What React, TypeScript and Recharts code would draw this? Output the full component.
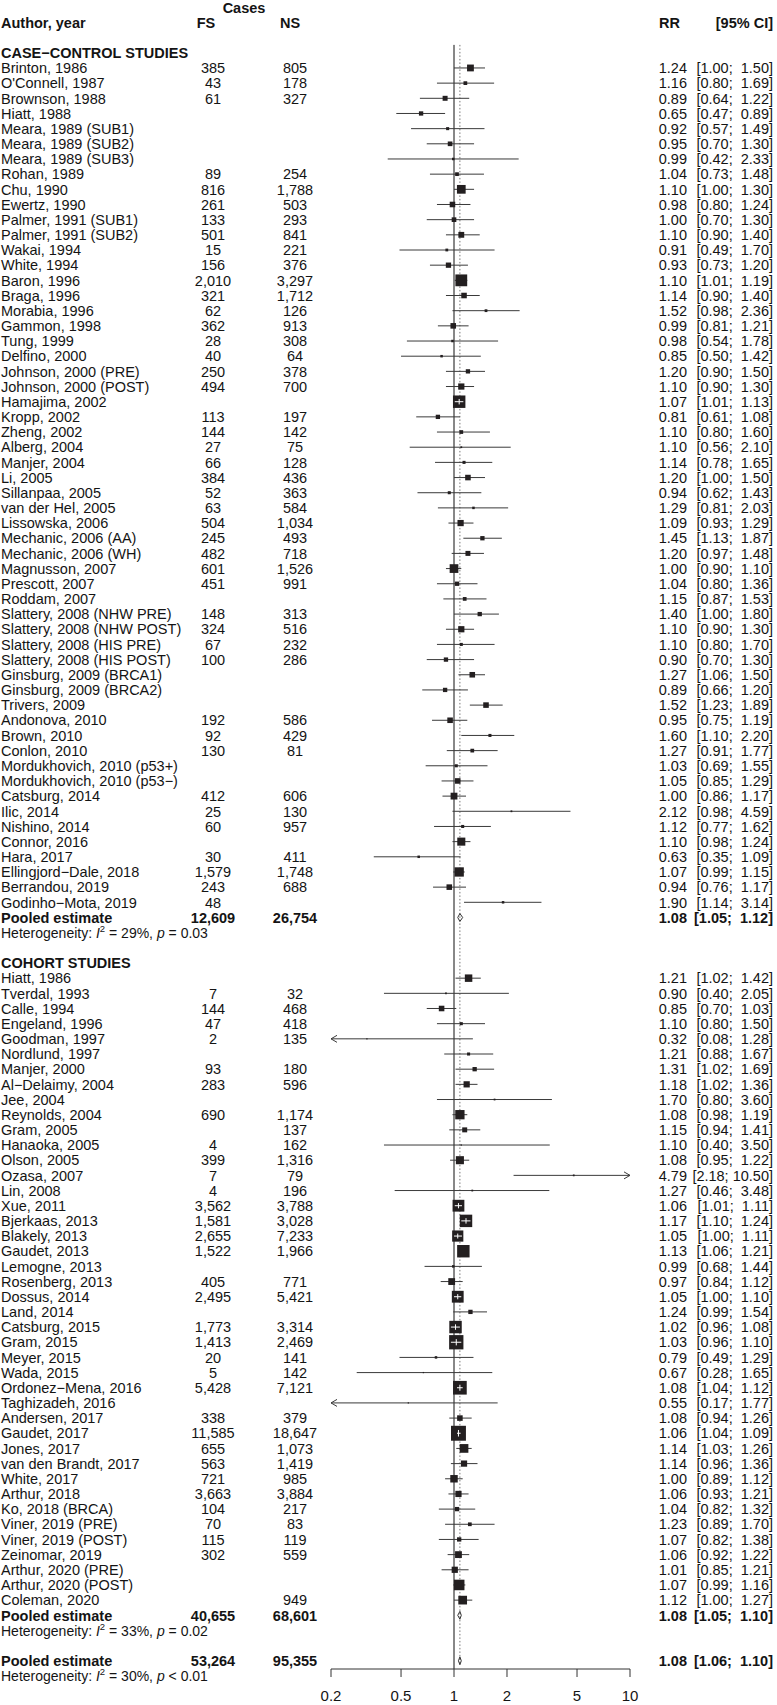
import React from "react";
import {
  ScatterChart,
  Scatter,
  XAxis,
  YAxis,
  ZAxis,
  ErrorBar,
  ReferenceLine,
} from "recharts";

const FONT = '"Liberation Sans", Arial, Helvetica, sans-serif';
const INK = "#141414";
const SQUARE = "#231f20";
const CI_LINE = "#3a3a3a";

const XMIN = 0.2;
const XMAX = 10;
const TICKS = [0.2, 0.5, 1, 2, 5, 10];

// ---- case-control studies ----
const ccAuthors = [
  "Brinton, 1986", "O'Connell, 1987", "Brownson, 1988", "Hiatt, 1988",
  "Meara, 1989 (SUB1)", "Meara, 1989 (SUB2)", "Meara, 1989 (SUB3)", "Rohan, 1989",
  "Chu, 1990", "Ewertz, 1990", "Palmer, 1991 (SUB1)", "Palmer, 1991 (SUB2)",
  "Wakai, 1994", "White, 1994", "Baron, 1996", "Braga, 1996", "Morabia, 1996",
  "Gammon, 1998", "Tung, 1999", "Delfino, 2000", "Johnson, 2000 (PRE)",
  "Johnson, 2000 (POST)", "Hamajima, 2002", "Kropp, 2002", "Zheng, 2002",
  "Alberg, 2004", "Manjer, 2004", "Li, 2005", "Sillanpaa, 2005", "van der Hel, 2005",
  "Lissowska, 2006", "Mechanic, 2006 (AA)", "Mechanic, 2006 (WH)", "Magnusson, 2007",
  "Prescott, 2007", "Roddam, 2007", "Slattery, 2008 (NHW PRE)", "Slattery, 2008 (NHW POST)",
  "Slattery, 2008 (HIS PRE)", "Slattery, 2008 (HIS POST)", "Ginsburg, 2009 (BRCA1)",
  "Ginsburg, 2009 (BRCA2)", "Trivers, 2009", "Andonova, 2010", "Brown, 2010",
  "Conlon, 2010", "Mordukhovich, 2010 (p53+)", "Mordukhovich, 2010 (p53\u2212)",
  "Catsburg, 2014", "Ilic, 2014", "Nishino, 2014", "Connor, 2016", "Hara, 2017",
  "Ellingjord\u2212Dale, 2018", "Berrandou, 2019", "Godinho\u2212Mota, 2019",
];
const ccFS = [
  385, 43, 61, null, null, null, null, 89, 816, 261, 133, 501, 15, 156, 2010, 321, 62,
  362, 28, 40, 250, 494, null, 113, 144, 27, 66, 384, 52, 63, 504, 245, 482, 601, 451,
  null, 148, 324, 67, 100, null, null, null, 192, 92, 130, null, null, 412, 25, 60, null,
  30, 1579, 243, 48,
];
const ccNS = [
  805, 178, 327, null, null, null, null, 254, 1788, 503, 293, 841, 221, 376, 3297, 1712,
  126, 913, 308, 64, 378, 700, null, 197, 142, 75, 128, 436, 363, 584, 1034, 493, 718,
  1526, 991, null, 313, 516, 232, 286, null, null, null, 586, 429, 81, null, null, 606,
  130, 957, null, 411, 1748, 688, null,
];
const ccRR = [
  1.24, 1.16, 0.89, 0.65, 0.92, 0.95, 0.99, 1.04, 1.1, 0.98, 1.0, 1.1, 0.91, 0.93, 1.1,
  1.14, 1.52, 0.99, 0.98, 0.85, 1.2, 1.1, 1.07, 0.81, 1.1, 1.1, 1.14, 1.2, 0.94, 1.29,
  1.09, 1.45, 1.2, 1.0, 1.04, 1.15, 1.4, 1.1, 1.1, 0.9, 1.27, 0.89, 1.52, 0.95, 1.6, 1.27,
  1.03, 1.05, 1.0, 2.12, 1.12, 1.1, 0.63, 1.07, 0.94, 1.9,
];
const ccLo = [
  1.0, 0.8, 0.64, 0.47, 0.57, 0.7, 0.42, 0.73, 1.0, 0.8, 0.7, 0.9, 0.49, 0.73, 1.01, 0.9,
  0.98, 0.81, 0.54, 0.5, 0.9, 0.9, 1.01, 0.61, 0.8, 0.56, 0.78, 1.0, 0.62, 0.81, 0.93,
  1.13, 0.97, 0.9, 0.8, 0.87, 1.0, 0.9, 0.8, 0.7, 1.06, 0.66, 1.23, 0.75, 1.1, 0.91, 0.69,
  0.85, 0.86, 0.98, 0.77, 0.98, 0.35, 0.99, 0.76, 1.14,
];
const ccHi = [
  1.5, 1.69, 1.22, 0.89, 1.49, 1.3, 2.33, 1.48, 1.3, 1.24, 1.3, 1.4, 1.7, 1.2, 1.19, 1.4,
  2.36, 1.21, 1.78, 1.42, 1.5, 1.3, 1.13, 1.08, 1.6, 2.1, 1.65, 1.5, 1.43, 2.03, 1.29,
  1.87, 1.48, 1.1, 1.36, 1.53, 1.8, 1.3, 1.7, 1.3, 1.5, 1.2, 1.89, 1.19, 2.2, 1.77, 1.55,
  1.29, 1.17, 4.59, 1.62, 1.24, 1.09, 1.15, 1.17, 3.14,
];
// relative study weights
const ccWt = [
  30, 9, 16, 12, 6, 14, 4, 9, 49, 20, 14, 22, 5, 18, 90, 20, 5, 20, 4, 4, 12, 25, 100, 12,
  9, 2, 6, 20, 6, 4, 25, 12, 16, 49, 12, 9, 12, 25, 6, 12, 20, 12, 20, 20, 6, 9, 6, 20,
  30, 2, 6, 42, 4, 56, 20, 4,
];

// ---- cohort studies ----
const coAuthors = [
  "Hiatt, 1986", "Tverdal, 1993", "Calle, 1994", "Engeland, 1996", "Goodman, 1997",
  "Nordlund, 1997", "Manjer, 2000", "Al\u2212Delaimy, 2004", "Jee, 2004", "Reynolds, 2004",
  "Gram, 2005", "Hanaoka, 2005", "Olson, 2005", "Ozasa, 2007", "Lin, 2008", "Xue, 2011",
  "Bjerkaas, 2013", "Blakely, 2013", "Gaudet, 2013", "Lemogne, 2013", "Rosenberg, 2013",
  "Dossus, 2014", "Land, 2014", "Catsburg, 2015", "Gram, 2015", "Meyer, 2015",
  "Wada, 2015", "Ordonez\u2212Mena, 2016", "Taghizadeh, 2016", "Andersen, 2017",
  "Gaudet, 2017", "Jones, 2017", "van den Brandt, 2017", "White, 2017", "Arthur, 2018",
  "Ko, 2018 (BRCA)", "Viner, 2019 (PRE)", "Viner, 2019 (POST)", "Zeinomar, 2019",
  "Arthur, 2020 (PRE)", "Arthur, 2020 (POST)", "Coleman, 2020",
];
const coFS = [
  null, 7, 144, 47, 2, null, 93, 283, null, 690, null, 4, 399, 7, 4, 3562, 1581, 2655,
  1522, null, 405, 2495, null, 1773, 1413, 20, 5, 5428, null, 338, 11585, 655, 563, 721,
  3663, 104, 70, 115, 302, null, null, null,
];
const coNS = [
  null, 32, 468, 418, 135, null, 180, 596, null, 1174, 137, 162, 1316, 79, 196, 3788,
  3028, 7233, 1966, null, 771, 5421, null, 3314, 2469, 141, 142, 7121, null, 379, 18647,
  1073, 1419, 985, 3884, 217, 83, 119, 559, null, null, 949,
];
const coRR = [
  1.21, 0.9, 0.85, 1.1, 0.32, 1.21, 1.31, 1.18, 1.7, 1.08, 1.15, 1.1, 1.08, 4.79, 1.27,
  1.06, 1.17, 1.05, 1.13, 0.99, 0.97, 1.05, 1.24, 1.02, 1.03, 0.79, 0.67, 1.08, 0.55,
  1.08, 1.06, 1.14, 1.14, 1.0, 1.06, 1.04, 1.23, 1.07, 1.06, 1.01, 1.07, 1.12,
];
const coLo = [
  1.02, 0.4, 0.7, 0.8, 0.08, 0.88, 1.02, 1.02, 0.8, 0.98, 0.94, 0.4, 0.95, 2.18, 0.46,
  1.01, 1.1, 1.0, 1.06, 0.68, 0.84, 1.0, 0.99, 0.96, 0.96, 0.49, 0.28, 1.04, 0.17, 0.94,
  1.04, 1.03, 0.96, 0.89, 0.93, 0.82, 0.89, 0.82, 0.92, 0.85, 0.99, 1.0,
];
const coHi = [
  1.42, 2.05, 1.03, 1.5, 1.28, 1.67, 1.69, 1.36, 3.6, 1.19, 1.41, 3.5, 1.22, 10.5, 3.48,
  1.11, 1.24, 1.11, 1.21, 1.44, 1.12, 1.1, 1.54, 1.08, 1.1, 1.29, 1.65, 1.12, 1.77, 1.26,
  1.09, 1.26, 1.36, 1.12, 1.21, 1.32, 1.7, 1.38, 1.22, 1.21, 1.16, 1.27,
];
const coWt = [
  36, 2, 20, 6, 1, 6, 12, 25, 2, 56, 16, 1, 42, 2, 2, 90, 100, 81, 100, 4, 30, 90, 12,
  100, 132, 4, 1, 121, 1, 20, 144, 49, 25, 36, 25, 12, 9, 12, 30, 25, 72, 49,
];

// studies whose CI lies inside the square (drawn in white)
const whiteCI = [
  "Hamajima, 2002", "Xue, 2011", "Bjerkaas, 2013", "Blakely, 2013", "Dossus, 2014",
  "Catsburg, 2015", "Gram, 2015", "Ordonez\u2212Mena, 2016", "Gaudet, 2017",
];

// ---- pooled estimates: case-control, cohort, overall ----
const pooledFS = [12609, 40655, 53264];
const pooledNS = [26754, 68601, 95355];
const pooledRR = [1.08, 1.08, 1.08];
const pooledLo = [1.05, 1.05, 1.06];
const pooledHi = [1.12, 1.1, 1.1];
const hetI2 = [29, 33, 30];
const hetP = ["= 0.03", "= 0.02", "< 0.01"];

// ---- row layout (row index = y value) ----
const CC_START = 0;
const CC_POOLED = CC_START + ccAuthors.length;
const CO_HEAD = CC_POOLED + 3;
const CO_START = CO_HEAD + 1;
const CO_POOLED = CO_START + coAuthors.length;
const ALL_POOLED = CO_POOLED + 3;
const Y_DOMAIN: [number, number] = [-4.48, 105.54];
const ROW_PX = 15.17;

const fmtN = (n: number | null) => (n == null ? "" : n.toLocaleString("en-US"));
const fmtCI = (lo: number, hi: number) =>
  `[${lo.toFixed(2)}; ${hi.toFixed(2).padStart(5, " ")}]`;

function mkStudy(author: string, fs: any, ns: any, rr: number, lo: number, hi: number, w: number, y: number) {
  return {
    kind: "study",
    author,
    fs,
    ns,
    rr,
    lo,
    hi,
    w,
    x: rr,
    y,
    err: [rr - Math.max(lo, XMIN), Math.min(hi, XMAX) - rr],
    white: whiteCI.includes(author),
  };
}

const studies = [
  ...ccAuthors.map((a, i) => mkStudy(a, ccFS[i], ccNS[i], ccRR[i], ccLo[i], ccHi[i], ccWt[i], CC_START + i)),
  ...coAuthors.map((a, i) => mkStudy(a, coFS[i], coNS[i], coRR[i], coLo[i], coHi[i], coWt[i], CO_START + i)),
];
const darkStudies = studies.filter((s) => !s.white);
const whiteStudies = studies.filter((s) => s.white);

const arrows = [
  ...studies.filter((s) => s.lo < XMIN).map((s) => ({ x: XMIN, y: s.y, dir: -1 })),
  ...studies.filter((s) => s.hi > XMAX).map((s) => ({ x: XMAX, y: s.y, dir: 1 })),
];

const pooledRows = [CC_POOLED, CO_POOLED, ALL_POOLED].map((y, i) => ({
  kind: "pooled",
  x: 1,
  y,
  fs: pooledFS[i],
  ns: pooledNS[i],
  rr: pooledRR[i],
  lo: pooledLo[i],
  hi: pooledHi[i],
  i2: hetI2[i],
  p: hetP[i],
}));

const diamonds = pooledRows.map((r) => [
  { x: r.lo, y: r.y },
  { x: r.rr, y: r.y - 0.26 },
  { x: r.hi, y: r.y },
  { x: r.rr, y: r.y + 0.26 },
  { x: r.lo, y: r.y },
]);

const textRows: any[] = [
  { kind: "cases", x: 1, y: -4 },
  { kind: "header", x: 1, y: -3 },
  { kind: "section", x: 1, y: -1, label: "CASE\u2212CONTROL STUDIES" },
  { kind: "section", x: 1, y: CO_HEAD, label: "COHORT STUDIES" },
  ...studies,
  ...pooledRows,
];

const FS = 14.5;
const AUTHOR_X = 1;
const FS_X = 213;
const NS_X = 295;
const EST_END = 687;
const RIGHT_X = 773;

function Empty() {
  return <g />;
}

function Square(props: any) {
  const { cx, cy, width, payload } = props;
  const s = Math.max(width || 0, 1);
  return (
    <g>
      <rect x={cx - s / 2} y={cy - s / 2} width={s} height={s} fill={SQUARE} />
      {payload.white && (
        <line x1={cx} x2={cx} y1={cy - s * 0.22} y2={cy + s * 0.22} stroke="#fff" strokeWidth={1} />
      )}
    </g>
  );
}

function Arrow(props: any) {
  const { cx, cy, payload } = props;
  const d = payload.dir;
  return (
    <polyline
      points={`${cx - d * 6},${cy - 3.5} ${cx},${cy} ${cx - d * 6},${cy + 3.5}`}
      fill="none"
      stroke={CI_LINE}
      strokeWidth={1}
    />
  );
}

function RowText(props: any) {
  const { cy, payload: p } = props;
  const common = { fontFamily: FONT, fontSize: FS, fill: INK, dy: "0.36em", style: { whiteSpace: "pre" as const } };
  if (p.kind === "cases") {
    return (
      <text {...common} x={244} y={cy} textAnchor="middle" fontWeight="bold">Cases</text>
    );
  }
  if (p.kind === "header") {
    return (
      <g>
        <text {...common} x={AUTHOR_X} y={cy} fontWeight="bold">Author, year</text>
        <text {...common} x={206} y={cy} textAnchor="middle" fontWeight="bold">FS</text>
        <text {...common} x={290} y={cy} textAnchor="middle" fontWeight="bold">NS</text>
        <text {...common} x={EST_END - 28} y={cy} fontWeight="bold">RR</text>
        <text {...common} x={RIGHT_X} y={cy} textAnchor="end" fontWeight="bold">[95% CI]</text>
      </g>
    );
  }
  if (p.kind === "section") {
    return <text {...common} x={AUTHOR_X} y={cy} fontWeight="bold">{p.label}</text>;
  }
  if (p.kind === "study") {
    return (
      <g>
        <text {...common} x={AUTHOR_X} y={cy}>{p.author}</text>
        <text {...common} x={FS_X} y={cy} textAnchor="middle">{fmtN(p.fs)}</text>
        <text {...common} x={NS_X} y={cy} textAnchor="middle">{fmtN(p.ns)}</text>
        <text {...common} x={EST_END} y={cy} textAnchor="end">{p.rr.toFixed(2)}</text>
        <text {...common} x={RIGHT_X} y={cy} textAnchor="end">{fmtCI(p.lo, p.hi)}</text>
      </g>
    );
  }
  // pooled estimate + heterogeneity line below it
  return (
    <g>
      <text {...common} x={AUTHOR_X} y={cy} fontWeight="bold">Pooled estimate</text>
      <text {...common} x={FS_X} y={cy} textAnchor="middle" fontWeight="bold">{fmtN(p.fs)}</text>
      <text {...common} x={NS_X} y={cy} textAnchor="middle" fontWeight="bold">{fmtN(p.ns)}</text>
      <text {...common} x={EST_END} y={cy} textAnchor="end" fontWeight="bold">{p.rr.toFixed(2)}</text>
      <text {...common} x={RIGHT_X} y={cy} textAnchor="end" fontWeight="bold">{fmtCI(p.lo, p.hi)}</text>
      <text {...common} fontSize={14} x={AUTHOR_X} y={cy + ROW_PX}>
        {"Heterogeneity: "}
        <tspan fontStyle="italic">I</tspan>
        <tspan fontSize={9.5} dy={-6}>2</tspan>
        <tspan dy={6}>{` = ${p.i2}%, `}</tspan>
        <tspan fontStyle="italic">p</tspan>
        {` ${p.p}`}
      </text>
    </g>
  );
}

export default function App() {
  return (
    <div style={{ width: 777, height: 1705, background: "#fff" }}>
      <style>{"body{margin:0}"}</style>
      <ScatterChart
        width={777}
        height={1705}
        margin={{ top: 0, right: 147, bottom: 0, left: 331 }}
      >
        <XAxis
          dataKey="x"
          type="number"
          scale="log"
          domain={[XMIN, XMAX]}
          ticks={TICKS}
          height={36}
          tickSize={8}
          tickMargin={13}
          axisLine={{ stroke: "#333" }}
          tickLine={{ stroke: "#333" }}
          tick={{ fill: INK, fontSize: 15, fontFamily: FONT }}
        />
        <YAxis dataKey="y" type="number" domain={Y_DOMAIN} reversed hide width={0} />
        <ZAxis dataKey="w" type="number" domain={[0, 144]} range={[0, 175]} />
        <ReferenceLine
          segment={[{ x: 1, y: -1.52 }, { x: 1, y: Y_DOMAIN[1] }]}
          stroke="#111"
          strokeWidth={1}
        />
        <ReferenceLine
          segment={[{ x: pooledRR[2], y: -1.52 }, { x: pooledRR[2], y: ALL_POOLED + 0.2 }]}
          stroke="#777"
          strokeWidth={1}
          strokeDasharray="1.5 2"
        />
        <Scatter data={darkStudies} shape={Empty} isAnimationActive={false}>
          <ErrorBar dataKey="err" direction="x" width={0} stroke={CI_LINE} strokeWidth={1} isAnimationActive={false} />
        </Scatter>
        <Scatter data={studies} shape={Square} isAnimationActive={false} />
        <Scatter data={whiteStudies} shape={Empty} isAnimationActive={false} zIndex={700}>
          <ErrorBar
            dataKey="err"
            direction="x"
            width={0}
            stroke="#fff"
            strokeWidth={1}
            isAnimationActive={false}
            zIndex={700}
          />
        </Scatter>
        <Scatter data={arrows} shape={Arrow} isAnimationActive={false} />
        {diamonds.map((d, i) => (
          <Scatter
            key={i}
            data={d}
            shape={Empty}
            line={{ stroke: "#333", strokeWidth: 1 }}
            isAnimationActive={false}
          />
        ))}
        <Scatter data={textRows} shape={RowText} isAnimationActive={false} />
      </ScatterChart>
    </div>
  );
}
